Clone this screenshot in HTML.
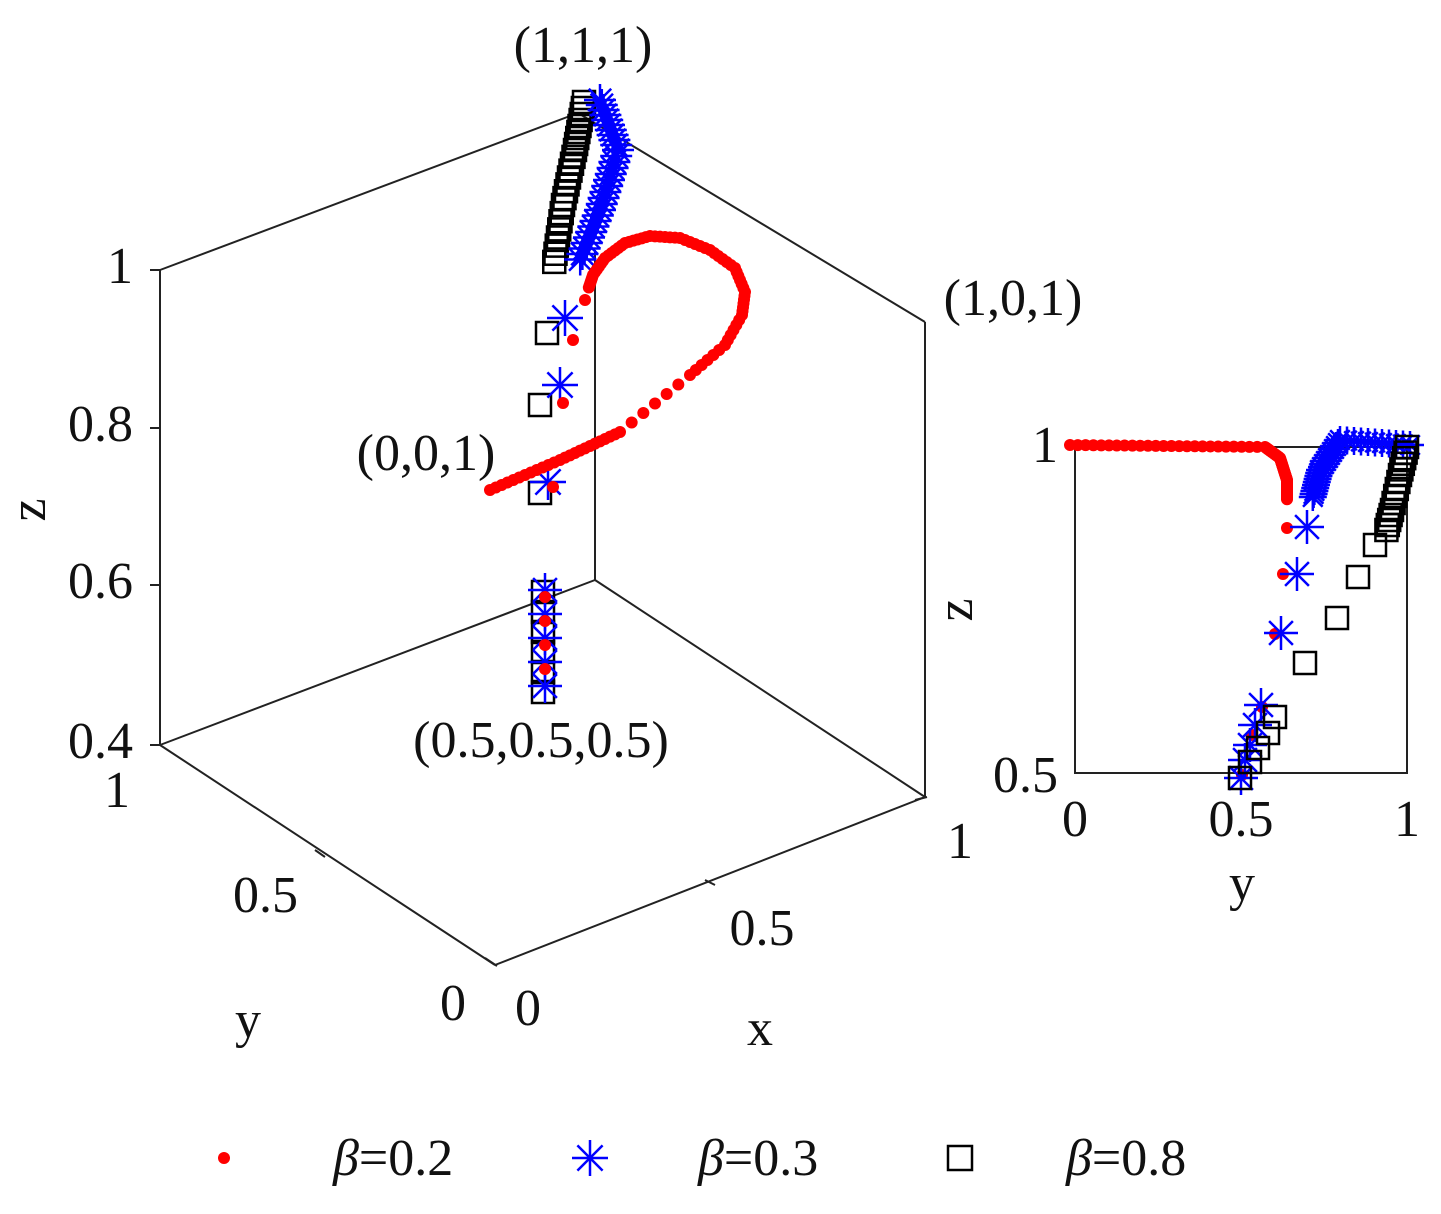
<!DOCTYPE html>
<html><head><meta charset="utf-8"><style>
html,body{margin:0;padding:0;background:#fff;}
svg{display:block;}
text{font-family:"Liberation Serif",serif;font-size:52px;fill:#111;}
</style></head><body>
<svg id="s" width="1441" height="1214" viewBox="0 0 1441 1214" xmlns="http://www.w3.org/2000/svg">
<g stroke="#222" stroke-width="2" fill="none">
<line x1="160" y1="270" x2="578" y2="113"/>
<line x1="578" y1="113" x2="925" y2="322"/>
<line x1="925" y1="322" x2="925" y2="797"/>
<line x1="160" y1="270" x2="160" y2="745"/>
<line x1="160" y1="745" x2="495" y2="965"/>
<line x1="495" y1="965" x2="925" y2="797"/>
<line x1="595" y1="250" x2="595" y2="580"/>
<line x1="595" y1="580" x2="160" y2="745"/>
<line x1="595" y1="580" x2="925" y2="797"/>
<line x1="150" y1="270" x2="160" y2="270"/><line x1="150" y1="428" x2="160" y2="428"/>
<line x1="150" y1="585" x2="160" y2="585"/><line x1="150" y1="745" x2="160" y2="745"/>
<line x1="315" y1="850" x2="325" y2="857"/><line x1="485" y1="958" x2="497" y2="966"/>
<line x1="705" y1="880" x2="715" y2="885"/><line x1="915" y1="800" x2="927" y2="797"/>
<rect x="1075" y="447" width="332" height="326"/>
</g>
<text x="133" y="283" text-anchor="end">1</text>
<text x="133" y="441" text-anchor="end">0.8</text>
<text x="133" y="598" text-anchor="end">0.6</text>
<text x="133" y="758" text-anchor="end">0.4</text>
<text x="45" y="510" transform="rotate(-90 45 510)" text-anchor="middle">z</text>
<text x="130" y="807" text-anchor="end">1</text>
<text x="298" y="912" text-anchor="end">0.5</text>
<text x="466" y="1020" text-anchor="end">0</text>
<text x="248" y="1037" text-anchor="middle">y</text>
<text x="528" y="1025" text-anchor="middle">0</text>
<text x="762" y="945" text-anchor="middle">0.5</text>
<text x="960" y="858" text-anchor="middle">1</text>
<text x="760" y="1045" text-anchor="middle">x</text>
<text x="583" y="62" text-anchor="middle">(1,1,1)</text>
<text x="1013" y="315" text-anchor="middle">(1,0,1)</text>
<text x="426" y="470" text-anchor="middle">(0,0,1)</text>
<text x="541" y="757" text-anchor="middle">(0.5,0.5,0.5)</text>
<text x="1058" y="462" text-anchor="end">1</text>
<text x="1058" y="792" text-anchor="end">0.5</text>
<text x="1075" y="836" text-anchor="middle">0</text>
<text x="1241" y="836" text-anchor="middle">0.5</text>
<text x="1407" y="836" text-anchor="middle">1</text>
<text x="1242" y="900" text-anchor="middle">y</text>
<text x="972" y="610" transform="rotate(-90 972 610)" text-anchor="middle">z</text>
<g id="m"></g>
<text x="333" y="1175"><tspan font-style="italic">β</tspan>=0.2</text>
<text x="698" y="1175"><tspan font-style="italic">β</tspan>=0.3</text>
<text x="1066" y="1175"><tspan font-style="italic">β</tspan>=0.8</text>
</svg>
<script>
var g=document.getElementById('m'),h='';
function dot(x,y,r){h+='<circle cx="'+x+'" cy="'+y+'" r="'+(r||5)+'" fill="#f00"/>';}
function star(x,y,s){s=s||18;var d=s*0.7;h+='<g stroke="#00f" stroke-width="2.5"><line x1="'+(x-s)+'" y1="'+y+'" x2="'+(x+s)+'" y2="'+y+'"/><line x1="'+x+'" y1="'+(y-s)+'" x2="'+x+'" y2="'+(y+s)+'"/><line x1="'+(x-d)+'" y1="'+(y-d)+'" x2="'+(x+d)+'" y2="'+(y+d)+'"/><line x1="'+(x-d)+'" y1="'+(y+d)+'" x2="'+(x+d)+'" y2="'+(y-d)+'"/></g>';}
function sq(x,y,s){s=s||12;h+='<rect x="'+(x-s)+'" y="'+(y-s)+'" width="'+(2*s)+'" height="'+(2*s)+'" fill="none" stroke="#000" stroke-width="2.5"/>';}
function lerp(p,n,f){for(var i=0;i<p.length-1;i++)for(var k=0;k<n;k++){var t=k/n;f(p[i][0]+(p[i+1][0]-p[i][0])*t,p[i][1]+(p[i+1][1]-p[i][1])*t);}}
lerp([[584,102],[575,150],[563,205],[553,270]],8,function(x,y){sq(x,y,11);});
[[547,333],[540,405],[540,493]].forEach(function(p){sq(p[0],p[1],11);});
for(var y=592;y<=695;y+=20)sq(543,y,11);
lerp([[600,100],[618,150],[600,210],[578,265]],10,function(x,y){star(x,y,16);});
[[565,318],[560,385],[548,482]].forEach(function(p){star(p[0],p[1],18);});
for(var y=590;y<=692;y+=24)star(545,y,17);
lerp([[490,490],[560,460],[620,432]],12,function(x,y){dot(x,y,6);});
lerp([[620,432],[690,375],[725,345]],6,function(x,y){dot(x,y,6);});
var c=[[725,345],[742,315],[745,292],[735,268],[710,250],[680,238],[650,236],[625,243],[605,258],[593,275],[588,290]];
lerp(c,6,function(x,y){dot(x,y,6);});
[[585,300],[573,340],[563,403],[553,487]].forEach(function(p){dot(p[0],p[1],6);});
for(var y=597;y<=692;y+=24)dot(545,y,6);
lerp([[1070,445],[1265,447],[1280,458],[1287,480],[1287,500]],25,function(x,y){dot(x,y,6);});
[[1287,528],[1283,574],[1275,634],[1262,707],[1252,735],[1242,775]].forEach(function(p){dot(p[0],p[1],6);});
lerp([[1410,445],[1340,440],[1320,470],[1312,500]],10,function(x,y){star(x,y,14);});
[[1307,527],[1297,574],[1281,633],[1261,705],[1255,725],[1250,745],[1245,760],[1241,778]].forEach(function(p){star(p[0],p[1],17);});
lerp([[1407,447],[1400,475],[1392,510],[1385,535]],5,function(x,y){sq(x,y,11);});
[[1375,545],[1358,577],[1337,618],[1305,663],[1275,717],[1268,733],[1258,748],[1250,762],[1240,778]].forEach(function(p){sq(p[0],p[1],11);});
dot(224,1158,6);star(590,1158,18);sq(960,1158,12);
g.innerHTML=h;
</script>
</body></html>
